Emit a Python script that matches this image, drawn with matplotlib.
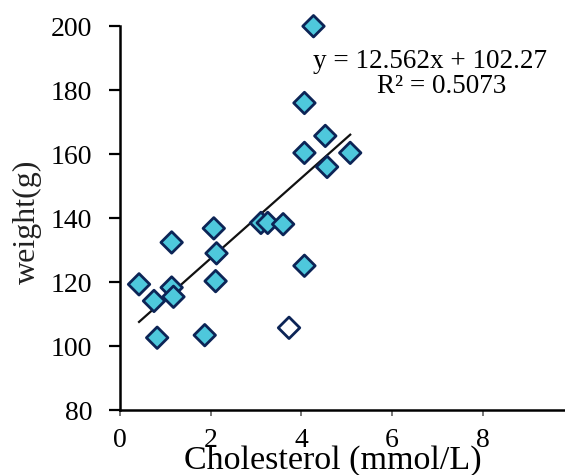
import numpy as np
import matplotlib
matplotlib.use("Agg")
import matplotlib.pyplot as plt

plt.rcParams['font.family'] = ['Liberation Serif', 'DejaVu Serif']

# cholesterol (mmol/L) and weight (g)
chol = [0.42, 0.75, 0.82, 1.14, 1.14, 1.18, 1.87, 2.07, 2.13, 2.11,
        3.11, 3.26, 3.60, 3.73, 4.07, 4.07, 4.07, 4.27, 4.53, 4.57, 5.08]
weight = [119.3, 114.1, 102.6, 132.4, 118.3, 115.4, 103.4, 136.8, 129.0, 120.3,
          138.5, 138.5, 138.1, 105.7, 176.0, 160.4, 125.1, 200.0, 165.7, 156.0, 160.4]
hollow = [13]  # the one white-filled marker

slope = 12.562
icpt = 102.27
r2 = 0.5073
xticks = [0, 2, 4, 6, 8]
yticks = [80, 100, 120, 140, 160, 180, 200]

fig = plt.figure(figsize=(5.65, 4.75), dpi=100)
ax = fig.add_axes([0.2124, 0.1368, 0.7876, 0.808])

fc = ['white' if i in hollow else '#4ec8dc' for i in range(len(chol))]
ax.scatter(chol, weight, marker='D', s=120, c=fc, edgecolors='#0c2456',
           linewidths=2.0, zorder=3, clip_on=False)

# linear fit line over the data range
xl = np.array([min(chol), max(chol)])
ax.plot(xl, slope * xl + icpt, color='#111111', lw=1.6, zorder=2)

ax.text(4.26, 189.0, 'y = %.3fx + %.2f' % (slope, icpt), fontsize=19.5,
        va='center', ha='left')
ax.text(7.09, 181.3, 'R² = %.4f' % r2, fontsize=19.5, va='center', ha='center')

ax.set_xlim(0, 9.82)
ax.set_ylim(80, 200)
ax.set_xticks(xticks)
ax.set_yticks(yticks)
ax.spines['top'].set_visible(False)
ax.spines['right'].set_visible(False)
for s in ['left', 'bottom']:
    ax.spines[s].set_linewidth(1.8)
ax.tick_params(axis='y', direction='out', length=8, width=1.6, labelsize=20, pad=12)
ax.tick_params(axis='x', direction='out', length=4, width=1.4, color='#777777',
               labelsize=20, pad=9)

ax.set_ylabel('weight(g)', fontsize=23, color='#222222', va='center', ha='center')
ax.yaxis.set_label_coords(-0.209, 0.49)
ax.set_xlabel('Cholesterol (mmol/L)', fontsize=24.5, va='center', ha='center')
ax.xaxis.set_label_coords(0.479, -0.132)

fig.savefig('out.png', dpi=100)
